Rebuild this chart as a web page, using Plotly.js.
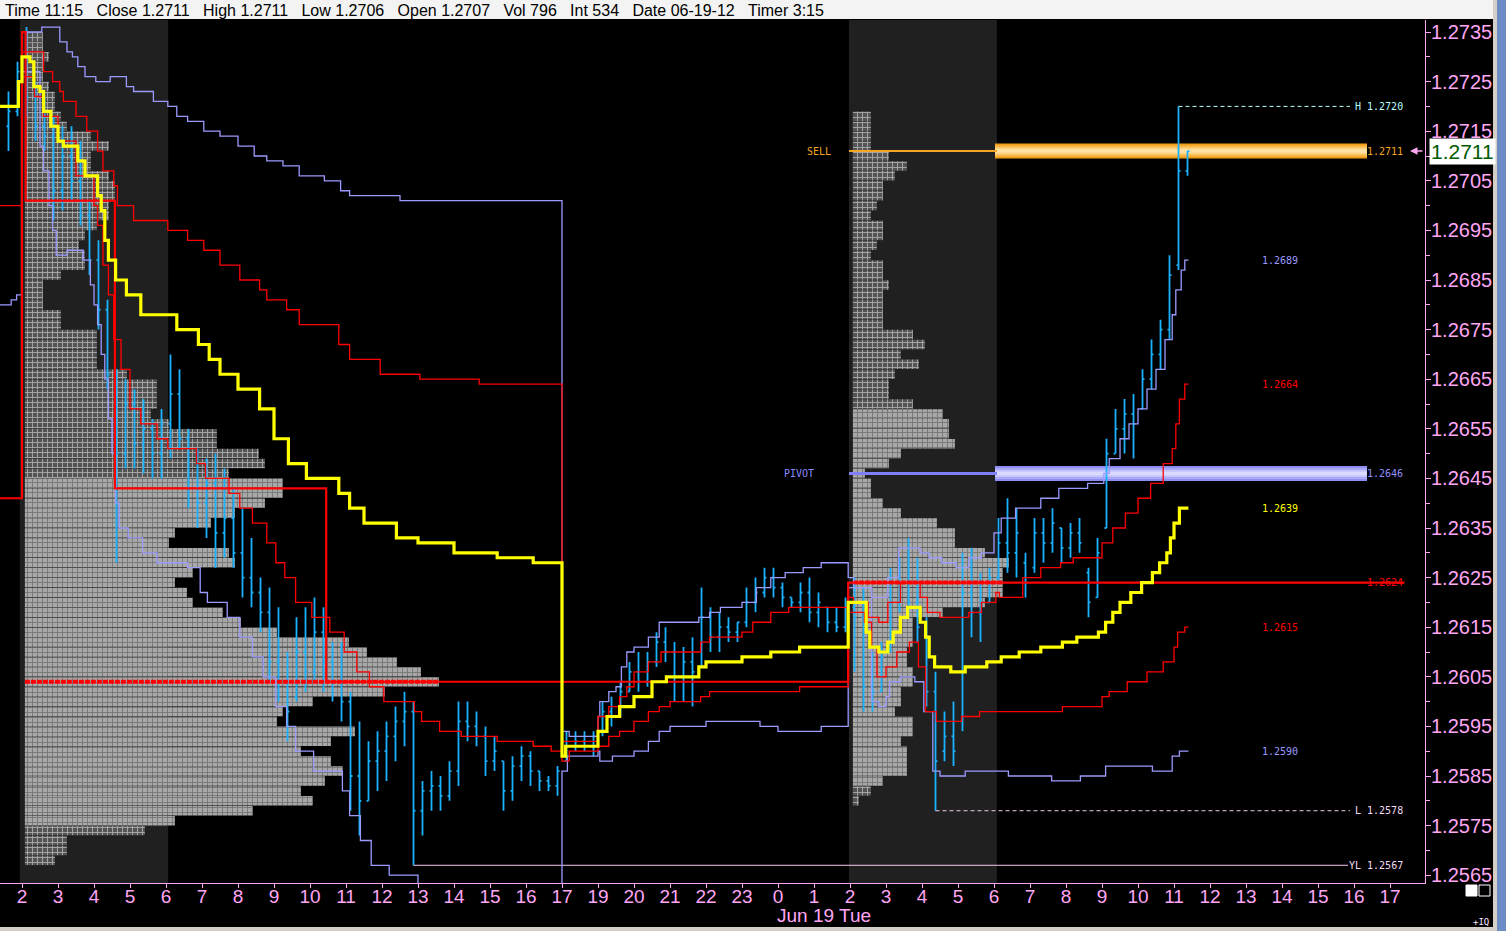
<!DOCTYPE html>
<html><head><meta charset="utf-8">
<script src="https://cdn.plot.ly/plotly-3.0.1.min.js"></script>
<style>html,body{margin:0;padding:0;background:#000;overflow:hidden}#chart{width:1506px;height:931px}</style>
</head><body><div id="chart"></div>
<script>
// ---------- header values ----------
const hdrTime = '11:15', hdrClose = '1.2711', hdrHigh = '1.2711', hdrLow = '1.2706', hdrOpen = '1.2707';
const hdrVol = '796', hdrInt = '534', hdrDate = '06-19-12', hdrTimer = '3:15';
const dateLabel = 'Jun 19 Tue';

// ---------- x axis (hour slots) ----------
const hourLabels = ['2','3','4','5','6','7','8','9','10','11','12','13','14','15','16','17',
  '19','20','21','22','23','0','1',
  '2','3','4','5','6','7','8','9','10','11','12','13','14','15','16','17'];

// ---------- 15-minute OHLC bars (first bar starts at slot -0.5) ----------
const barStartSlot = -0.5, barStep = 0.25;
const barOpen = [
 1.2716,1.2719,1.2727,1.2722,1.2716,1.2714,1.2703,1.2710,1.2705,1.2698,
 1.2689,1.2679,1.2666,1.2650,1.2660,1.2652,1.2655,1.2650,1.2656,1.2662,
 1.2653,1.2643,1.2640,1.2644,1.2634,1.2637,1.2630,1.2625,1.2622,1.2618,
 1.2608,1.2604,1.2601,1.2610,1.2606,1.2614,1.2608,1.2604,1.2600,1.2585,
 1.2580,1.2588,1.2590,1.2593,1.2596,1.2598,1.2578,1.2582,1.2583,1.2581,
 1.2586,1.2596,1.2595,1.2593,1.2588,1.2588,1.2582,1.2587,1.2589,1.2586,
 1.2584,1.2583,1.2588,1.2591,1.2592,1.2591,1.2594,1.2598,1.2598,1.2602,
 1.2606,1.2604,1.2608,1.2612,1.2610,1.2605,1.2608,1.2607,1.2617,1.2613,
 1.2615,1.2614,1.2616,1.2620,1.2622,1.2625,1.2623,1.2621,1.2620,1.2622,
 1.2618,1.2619,1.2616,1.2615,1.2619,1.2617,1.2603,1.2602,1.2610,1.2620,
 1.2624,1.2620,1.2615,1.2602,1.2590,1.2593,1.2596,1.2622,1.2618,1.2620,
 1.2625,1.2632,1.2630,1.2628,1.2627,1.2634,1.2632,1.2635,1.2631,1.2634,
 1.2626,1.2621,1.2635,1.2650,1.2655,1.2658,1.2659,1.2665,1.2670,1.2675,
 1.2688,1.2707];
const barHigh = [
 1.2723,1.2729,1.2736,1.2725,1.2722,1.2718,1.2716,1.2716,1.2713,1.2701,
 1.2693,1.2681,1.2667,1.2665,1.2663,1.2661,1.2657,1.2659,1.2670,1.2667,
 1.2655,1.2651,1.2649,1.2650,1.2647,1.2643,1.2639,1.2633,1.2625,1.2623,
 1.2619,1.2610,1.2617,1.2619,1.2621,1.2619,1.2612,1.2612,1.2602,1.2596,
 1.2592,1.2594,1.2596,1.2599,1.2602,1.2600,1.2584,1.2586,1.2585,1.2588,
 1.2600,1.2600,1.2598,1.2595,1.2593,1.2588,1.2589,1.2591,1.2590,1.2586,
 1.2585,1.2587,1.2594,1.2594,1.2594,1.2594,1.2600,1.2601,1.2604,1.2608,
 1.2610,1.2610,1.2614,1.2615,1.2612,1.2611,1.2613,1.2623,1.2619,1.2618,
 1.2617,1.2616,1.2623,1.2625,1.2627,1.2627,1.2624,1.2621,1.2624,1.2625,
 1.2622,1.2619,1.2619,1.2621,1.2625,1.2623,1.2610,1.2612,1.2627,1.2629,
 1.2633,1.2629,1.2617,1.2606,1.2598,1.2600,1.2630,1.2631,1.2626,1.2627,
 1.2637,1.2641,1.2639,1.2630,1.2637,1.2637,1.2639,1.2635,1.2636,1.2637,
 1.2627,1.2633,1.2653,1.2659,1.2661,1.2662,1.2667,1.2673,1.2677,1.2690,
 1.2720,1.2711];
const barLow = [
 1.2711,1.2718,1.2718,1.2713,1.2711,1.2697,1.2699,1.2701,1.2696,1.2686,
 1.2675,1.2663,1.2628,1.2647,1.2647,1.2646,1.2645,1.2645,1.2649,1.2651,
 1.2639,1.2635,1.2633,1.2627,1.2629,1.2627,1.2621,1.2619,1.2614,1.2604,
 1.2600,1.2592,1.2600,1.2602,1.2604,1.2602,1.2600,1.2596,1.2578,1.2573,
 1.2580,1.2582,1.2584,1.2588,1.2591,1.2567,1.2573,1.2578,1.2578,1.2580,
 1.2583,1.2592,1.2591,1.2585,1.2586,1.2578,1.2580,1.2584,1.2583,1.2582,
 1.2582,1.2581,1.2588,1.2590,1.2590,1.2589,1.2593,1.2595,1.2597,1.2602,
 1.2602,1.2603,1.2607,1.2608,1.2600,1.2600,1.2599,1.2607,1.2610,1.2610,
 1.2612,1.2612,1.2615,1.2618,1.2621,1.2621,1.2619,1.2619,1.2618,1.2616,
 1.2615,1.2614,1.2614,1.2614,1.2606,1.2598,1.2598,1.2602,1.2610,1.2618,
 1.2617,1.2612,1.2599,1.2578,1.2588,1.2587,1.2594,1.2613,1.2612,1.2620,
 1.2624,1.2626,1.2625,1.2621,1.2626,1.2628,1.2630,1.2628,1.2629,1.2630,
 1.2617,1.2621,1.2635,1.2650,1.2650,1.2649,1.2659,1.2663,1.2667,1.2673,
 1.2687,1.2706];
const barClose = [
 1.2719,1.2727,1.2722,1.2716,1.2714,1.2703,1.2710,1.2705,1.2698,1.2689,
 1.2679,1.2666,1.2650,1.2660,1.2652,1.2655,1.2650,1.2656,1.2662,1.2653,
 1.2643,1.2640,1.2644,1.2634,1.2637,1.2630,1.2625,1.2622,1.2618,1.2608,
 1.2604,1.2598,1.2610,1.2606,1.2614,1.2608,1.2604,1.2600,1.2585,1.2580,
 1.2588,1.2590,1.2593,1.2596,1.2598,1.2578,1.2582,1.2583,1.2581,1.2586,
 1.2596,1.2595,1.2593,1.2588,1.2590,1.2582,1.2587,1.2589,1.2586,1.2584,
 1.2583,1.2586,1.2591,1.2592,1.2591,1.2593,1.2598,1.2597,1.2602,1.2606,
 1.2604,1.2608,1.2612,1.2610,1.2605,1.2608,1.2606,1.2617,1.2613,1.2615,
 1.2614,1.2616,1.2620,1.2622,1.2625,1.2623,1.2621,1.2620,1.2622,1.2618,
 1.2620,1.2616,1.2615,1.2619,1.2617,1.2603,1.2602,1.2609,1.2620,1.2624,
 1.2620,1.2615,1.2602,1.2588,1.2593,1.2590,1.2622,1.2618,1.2620,1.2625,
 1.2632,1.2630,1.2634,1.2624,1.2634,1.2632,1.2636,1.2631,1.2634,1.2632,
 1.2620,1.2630,1.2650,1.2655,1.2658,1.2656,1.2665,1.2670,1.2675,1.2686,
 1.2707,1.2711];

// ---------- session VWAP and deviation bands (step lines) ----------
const vwapX = [-0.61,-0.1,0.0,0.22,0.33,0.5,0.6,0.8,1.0,1.15,1.55,1.75,2.1,2.2,2.3,2.4,2.6,2.9,3.3,4.3,4.9,5.2,5.5,6.0,6.6,7.0,7.4,7.9,8.8,9.1,9.5,10.4,11.0,12.0,13.2,14.2,
  15.0,15.1,16.0,16.25,16.6,17.0,17.5,17.9,18.8,19.0,20.0,20.8,21.6,
  22.95,23.45,23.55,23.8,24.05,24.2,24.4,24.6,24.95,25.1,25.2,25.35,25.8,26.2,26.8,27.2,27.7,28.3,28.9,29.3,29.9,30.1,30.3,30.5,30.8,31.1,31.4,31.6,31.8,31.9,32.0,32.15,32.3,32.4];
const vwapY = [1.2720,1.2725,1.2730,1.2729,1.2724,1.2723,1.2719,1.2716,1.2713,1.2712,1.2709,1.2706,1.2702,1.2699,1.2693,1.2689,1.2685,1.2682,1.2678,1.2675,1.2672,1.2669,1.2666,1.2663,1.2659,1.2653,1.2648,1.2645,1.2642,1.2639,1.2636,1.2633,1.2632,1.2630,1.2629,1.2628,
  1.2589,1.2591,1.2594,1.2597,1.2599,1.2601,1.2604,1.2605,1.2607,1.2608,1.2609,1.2610,1.2611,
  1.2620,1.2614,1.2611,1.2610,1.2612,1.2614,1.2617,1.2619,1.2616,1.2613,1.2609,1.2607,1.2606,1.2607,1.2608,1.2609,1.2610,1.2611,1.2612,1.2613,1.2614,1.2616,1.2618,1.2620,1.2622,1.2624,1.2626,1.2628,1.2630,1.2633,1.2636,1.2639,1.2639,1.2639];

const up1X = [0.0,0.6,0.85,1.05,1.15,1.5,1.8,2.1,2.25,2.55,2.65,3.1,4.05,4.6,5.05,5.5,6.05,6.6,6.8,7.35,7.7,8.8,9.1,9.95,11.05,12.7,
  15.0,16.0,16.3,16.6,16.8,17.0,17.4,17.75,18.85,19.1,20.0,20.3,20.8,21.3,
  22.95,23.1,23.5,23.8,24.05,24.4,24.95,25.15,25.5,26.3,26.65,27.05,27.15,27.8,28.3,28.85,29.2,30.0,30.3,30.65,31.0,31.35,31.7,31.95,32.05,32.15,32.3,32.4];
const up1Y = [1.2731,1.2727,1.2725,1.2723,1.2721,1.2718,1.2715,1.2711,1.2707,1.2704,1.2700,1.2697,1.2695,1.2693,1.2691,1.2688,1.2685,1.2683,1.2681,1.2679,1.2676,1.2672,1.2669,1.2666,1.2665,1.2664,
  1.2592,1.2597,1.2599,1.2601,1.2603,1.2606,1.2608,1.2610,1.2612,1.2613,1.2614,1.2616,1.2618,1.2619,
  1.2621,1.2620,1.2617,1.2616,1.2620,1.2624,1.2621,1.2618,1.2617,1.2618,1.2620,1.2622,1.2621,1.2625,1.2627,1.2628,1.2629,1.2632,1.2635,1.2638,1.2641,1.2644,1.2648,1.2651,1.2656,1.2661,1.2664,1.2664];

const dn1X = [-0.61,0.0,0.35,0.6,1.0,1.5,2.0,2.1,2.25,2.4,2.55,2.75,3.0,3.3,3.75,4.05,4.85,5.1,5.75,6.05,6.4,6.8,7.05,7.3,7.6,8.05,8.55,8.95,9.3,9.65,10.05,10.9,11.1,11.6,12.2,13.2,14.2,14.7,
  15.0,15.2,16.0,16.3,16.6,17.0,17.4,17.7,18.0,18.85,19.1,21.6,
  22.95,23.4,23.6,23.75,24.0,24.3,24.65,24.9,25.1,25.4,26.1,26.6,28.9,30.0,30.2,30.7,31.25,31.7,32.0,32.1,32.3,32.4];
const dn1Y = [1.2700,1.2726,1.2722,1.2718,1.2713,1.2706,1.2700,1.2696,1.2688,1.2682,1.2673,1.2667,1.2659,1.2656,1.2653,1.2651,1.2648,1.2645,1.2642,1.2639,1.2636,1.2632,1.2628,1.2625,1.2620,1.2617,1.2614,1.2610,1.2606,1.2603,1.2600,1.2598,1.2596,1.2594,1.2593,1.2592,1.2591,1.2590,
  1.2588,1.2590,1.2591,1.2593,1.2594,1.2596,1.2598,1.2599,1.2600,1.2601,1.2602,1.2603,
  1.2618,1.2616,1.2611,1.2605,1.2607,1.2610,1.2612,1.2607,1.2598,1.2596,1.2597,1.2598,1.2599,1.2601,1.2602,1.2604,1.2606,1.2608,1.2611,1.2614,1.2615,1.2615];

const up2X = [0.0,0.55,1.05,1.25,1.4,1.55,1.75,2.05,2.45,2.9,3.1,3.65,4.05,4.3,4.6,5.05,5.5,6.0,6.45,6.8,7.25,7.7,8.4,8.85,9.1,10.5,
  15.0,15.2,16.0,16.05,16.3,16.5,16.65,16.8,17.0,17.4,17.7,18.8,19.1,19.4,20.0,20.4,20.8,21.2,21.7,22.2,
  22.95,23.1,23.6,24.05,24.35,24.95,25.2,25.55,25.95,26.3,26.65,27.0,27.2,27.6,28.3,28.8,29.6,30.05,30.2,30.5,30.75,31.0,31.25,31.5,31.75,31.95,32.05,32.2,32.3,32.4];
const up2Y = [1.2735,1.2736,1.2733,1.2731,1.2730,1.2728,1.2726,1.2725,1.2726,1.2724,1.2723,1.2721,1.2720,1.2718,1.2717,1.2715,1.2714,1.2712,1.2710,1.2709,1.2708,1.2706,1.2705,1.2703,1.2702,1.2701,
  1.2594,1.2593,1.2597,1.2600,1.2602,1.2603,1.2607,1.2610,1.2611,1.2613,1.2616,1.2617,1.2618,1.2619,1.2620,1.2623,1.2625,1.2626,1.2627,1.2628,
  1.2625,1.2623,1.2621,1.2625,1.2631,1.2630,1.2629,1.2628,1.2627,1.2629,1.2630,1.2634,1.2637,1.2639,1.2641,1.2643,1.2644,1.2646,1.2649,1.2653,1.2656,1.2659,1.2663,1.2667,1.2673,1.2678,1.2683,1.2687,1.2689,1.2689];

const dn2X = [-0.61,-0.3,-0.15,0.0,0.5,0.6,0.75,0.85,0.95,1.25,1.7,1.9,2.0,2.1,2.2,2.3,2.4,2.5,2.6,2.7,2.95,3.35,3.75,4.6,4.95,5.15,5.7,6.05,6.4,6.7,7.05,7.35,7.6,8.1,8.9,9.1,9.4,9.7,10.2,11.0,11.5,12.5,14.0,
  15.0,15.15,16.0,16.05,16.4,17.0,17.4,17.7,18.0,19.0,20.5,21.0,22.2,
  22.95,23.6,23.8,24.0,24.1,24.4,24.8,25.05,25.3,25.5,26.2,27.4,28.6,29.4,30.1,31.4,31.95,32.15,32.4];
const dn2Y = [1.2680,1.2681,1.2682,1.2727,1.2712,1.2707,1.2700,1.2695,1.2690,1.2691,1.2689,1.2684,1.2680,1.2676,1.2670,1.2665,1.2657,1.2650,1.2640,1.2635,1.2633,1.2630,1.2628,1.2627,1.2622,1.2620,1.2617,1.2613,1.2609,1.2605,1.2599,1.2595,1.2590,1.2586,1.2582,1.2577,1.2572,1.2567,1.2565,1.2563,1.2560,1.2556,1.2552,
  1.2586,1.2589,1.2590,1.2588,1.2589,1.2590,1.2592,1.2594,1.2595,1.2596,1.2595,1.2594,1.2595,
  1.2623,1.2600,1.2599,1.2601,1.2604,1.2605,1.2604,1.2598,1.2586,1.2585,1.2586,1.2585,1.2584,1.2585,1.2587,1.2586,1.2589,1.2590,1.2590];

// developing point of control
const pocX = [-0.61,0.0,0.1,2.58,8.45,22.95,38.4];
const pocY = [1.2641,1.2735,1.2701,1.2643,1.2604,1.2624,1.2624];

// ---------- volume profiles (cells per 2-pip row, listed from top price down) ----------
const profStep = 0.0002;
const prof1Top = 1.2734, prof1Base = 0.08, prof1VAH = 1.2644, prof1VAL = 1.2576, prof1POC = 1.2604;
const prof1Counts = [
 3,3,4,3,3,4,5,5,6,7,
 11,14,11,11,14,15,15,14,14,12,
 10,9,10,10,6,3,3,3,6,6,
 12,12,12,12,17,22,22,22,21,24,
 32,32,39,40,34,43,43,40,35,31,
 25,24,34,35,28,25,27,28,33,36,
 42,54,57,62,66,69,60,48,43,42,
 55,51,46,51,53,50,46,48,38,25,
 20,7,7,5];
const prof2Top = 1.2718, prof2Base = 23.08, prof2VAH = 1.2658, prof2VAL = 1.2584, prof2POC = 1.2624;
const prof2Counts = [
 3,3,3,3,6,9,7,5,5,4,
 3,5,5,4,3,5,5,6,5,5,
 5,5,10,12,8,11,7,6,6,10,
 15,16,16,17,8,6,2,3,3,5,
 8,14,17,17,22,26,25,25,25,22,
 15,10,10,10,9,9,10,10,8,8,
 7,10,10,8,9,9,9,5,3,1];

// ---------- key levels ----------
const sellLevel = 1.2711, pivotLevel = 1.2646;
const highOfDay = 1.2720, lowOfDay = 1.2578, yesterdayLow = 1.2567, lastPrice = 1.2711;
const highSlot = 32.125, lowSlot = 25.375, yLowSlot = 10.875;

// ---------- layout geometry ----------
const W = 1506, H = 931, ML = 0, MR = 81, MT = 20, MB = 48;
const PW = W - ML - MR, PH = H - MT - MB;
const xRange = [-0.611, 38.972];
const yRange = [1.256343, 1.273742];
const px2paperX = px => (px - ML) / PW;
const py2paperY = py => 1 - (py - MT) / PH;
const px2slot = px => xRange[0] + (px - ML) / PW * (xRange[1] - xRange[0]);

const PINK = '#ffa6f4', CYAN = '#1ab2ff', RED = '#ff0000', LAV = '#9a9aff', YEL = '#ffff00';
const ORANGE = '#f5a623';
const CELL = 1 / 6;

const barX = barOpen.map((_, i) => barStartSlot + i * barStep + barStep / 2);

function profileTrace(top, counts, base, vah, val, poc) {
  const y = counts.map((c, i) => +(top - i * profStep).toFixed(4));
  const col = y.map(p => (p <= vah + 1e-9 && p >= val - 1e-9) ? '#a8a8a8' : '#545454');
  return {type: 'bar', orientation: 'h', y: y, x: counts.map(c => c * CELL), base: base,
    width: profStep * 0.96, hoverinfo: 'skip',
    marker: {color: col, line: {width: 0},
      pattern: {shape: '+', fillmode: 'overlay', fgcolor: '#000000', size: 5, solidity: 0.33}}};
}
function pocRow(top, counts, base, poc) {
  const idx = Math.round((top - poc) / profStep);
  return {type: 'scatter', mode: 'lines', x: [base, base + counts[idx] * CELL], y: [poc, poc],
    line: {color: RED, width: 4, dash: '5px,1px'}, hoverinfo: 'skip'};
}
function step(x, y, color, width) {
  return {type: 'scatter', mode: 'lines', x: x, y: y, line: {color: color, width: width, shape: 'hv'}, hoverinfo: 'skip'};
}
function hline(x0, x1, y, color, width, dash) {
  return {type: 'scatter', mode: 'lines', x: [x0, x1], y: [y, y], line: {color: color, width: width, dash: dash || 'solid'}, hoverinfo: 'skip'};
}

const xEndLine = px2slot(1350);
const traces = [
  profileTrace(prof1Top, prof1Counts, prof1Base, prof1VAH, prof1VAL, prof1POC),
  profileTrace(prof2Top, prof2Counts, prof2Base, prof2VAH, prof2VAL, prof2POC),
  pocRow(prof1Top, prof1Counts, prof1Base, prof1POC),
  pocRow(prof2Top, prof2Counts, prof2Base, prof2POC),
  hline(px2slot(849), px2slot(997), sellLevel, ORANGE, 2),
  hline(px2slot(849), px2slot(997), pivotLevel, '#8080ff', 3),
  hline(yLowSlot, px2slot(1348), yesterdayLow, '#f0c8f0', 1),
  hline(lowSlot, xEndLine, lowOfDay, '#f0c8f0', 1, '4px,3px'),
  hline(highSlot, xEndLine, highOfDay, '#b8ffff', 1, '4px,3px'),
  step(up2X, up2Y, LAV, 1.3),
  step(dn2X, dn2Y, LAV, 1.3),
  step(up1X, up1Y, RED, 1.3),
  step(dn1X, dn1Y, RED, 1.3),
  step(pocX, pocY, RED, 2.2),
  {type: 'ohlc', x: barX, open: barOpen, high: barHigh, low: barLow, close: barClose,
   increasing: {line: {color: CYAN, width: 1.8}}, decreasing: {line: {color: CYAN, width: 1.8}},
   tickwidth: 0.22, hoverinfo: 'skip'},
  step(vwapX, vwapY, YEL, 3.2)
];

// gradient bars for SELL and PIVOT levels
const bandX0 = px2slot(995), bandX1 = px2slot(1367);
function gradBand(level, colors) {
  const halves = [0.00015, 0.00011, 0.00007, 0.000035];
  return halves.map((h, i) => ({type: 'rect', xref: 'x', yref: 'y', x0: bandX0, x1: bandX1,
    y0: level - h, y1: level + h, fillcolor: colors[i], line: {width: 0}, layer: 'below'}));
}

const shapes = [
  {type: 'rect', xref: 'x', yref: 'paper', x0: -0.06, x1: 4.06, y0: 0, y1: 1, fillcolor: '#202020', line: {width: 0}, layer: 'below'},
  {type: 'rect', xref: 'x', yref: 'paper', x0: 22.97, x1: 27.08, y0: 0, y1: 1, fillcolor: '#202020', line: {width: 0}, layer: 'below'},
  ...gradBand(sellLevel, ['#f2a01c', '#f9b94a', '#fdd27f', '#ffe2a6']),
  ...gradBand(pivotLevel, ['#8e8ef2', '#a9a9f8', '#c3c3fc', '#dadaff']),
  // header strip
  {type: 'rect', xref: 'paper', yref: 'paper', x0: px2paperX(0), x1: px2paperX(1493), y0: py2paperY(19), y1: py2paperY(0), fillcolor: '#f3f3f3', line: {width: 0}},
  // right window border
  {type: 'rect', xref: 'paper', yref: 'paper', x0: px2paperX(1493), x1: px2paperX(1497), y0: py2paperY(931), y1: py2paperY(0), fillcolor: '#d4d0c8', line: {width: 0}},
  {type: 'rect', xref: 'paper', yref: 'paper', x0: px2paperX(1497), x1: px2paperX(1506), y0: py2paperY(931), y1: py2paperY(0), fillcolor: '#6b8cc4', line: {width: 0}},
  {type: 'rect', xref: 'paper', yref: 'paper', x0: px2paperX(0), x1: px2paperX(1493), y0: py2paperY(931), y1: py2paperY(927), fillcolor: '#d4d0c8', line: {width: 0}},
  // small squares bottom right
  {type: 'rect', xref: 'paper', yref: 'paper', x0: px2paperX(1466), x1: px2paperX(1477), y0: py2paperY(896), y1: py2paperY(885), fillcolor: '#ffffff', line: {color: '#ffffff', width: 1}},
  {type: 'rect', xref: 'paper', yref: 'paper', x0: px2paperX(1479), x1: px2paperX(1490), y0: py2paperY(896), y1: py2paperY(885), fillcolor: 'rgba(0,0,0,0)', line: {color: '#ffffff', width: 1}}
];

const mono = 'DejaVu Sans Mono, Liberation Mono, monospace';
const nb = '\u00a0\u00a0\u00a0';
const headerText = 'Time ' + hdrTime + nb + 'Close ' + hdrClose + nb + 'High ' + hdrHigh + nb + 'Low ' + hdrLow + nb +
  'Open ' + hdrOpen + nb + 'Vol ' + hdrVol + nb + 'Int ' + hdrInt + nb + 'Date ' + hdrDate + nb + 'Timer ' + hdrTimer;

const lblX = px2slot(1405), bandLblX = px2slot(1280);
const last = a => a[a.length - 1];
function lbl(x, y, text, color, anchor) {
  return {xref: 'x', yref: 'y', x: x, y: y, text: text, showarrow: false, xanchor: anchor || 'right', yanchor: 'middle',
    font: {family: mono, size: 10, color: color}};
}
const annotations = [
  {xref: 'paper', yref: 'paper', x: px2paperX(3), y: py2paperY(10), xanchor: 'left', yanchor: 'middle', showarrow: false,
   text: headerText, font: {family: 'Liberation Sans, Arial', size: 16, color: '#000000'}},
  {xref: 'x', yref: 'paper', x: px2slot(824), y: py2paperY(916), xanchor: 'center', yanchor: 'middle', showarrow: false,
   text: dateLabel, font: {family: 'Liberation Sans, Arial', size: 19, color: PINK}},
  {xref: 'paper', yref: 'paper', x: px2paperX(1491), y: py2paperY(922), xanchor: 'right', yanchor: 'middle', showarrow: false,
   text: '+IQ', font: {family: mono, size: 9, color: '#ffe6ff'}},
  lbl(px2slot(833), sellLevel, 'SELL', ORANGE),
  lbl(px2slot(816), pivotLevel, 'PIVOT', '#8888ff'),
  lbl(lblX, sellLevel, sellLevel.toFixed(4), ORANGE),
  lbl(lblX, pivotLevel, pivotLevel.toFixed(4), '#9090ff'),
  lbl(lblX, prof2POC, prof2POC.toFixed(4), RED),
  lbl(lblX, highOfDay, 'H ' + highOfDay.toFixed(4), '#b8ffff'),
  lbl(lblX, lowOfDay, 'L ' + lowOfDay.toFixed(4), '#f4dcf4'),
  lbl(lblX, yesterdayLow, 'YL ' + yesterdayLow.toFixed(4), '#f4dcf4'),
  lbl(bandLblX, last(up2Y), last(up2Y).toFixed(4), LAV, 'center'),
  lbl(bandLblX, last(up1Y), last(up1Y).toFixed(4), RED, 'center'),
  lbl(bandLblX, last(vwapY), last(vwapY).toFixed(4), YEL, 'center'),
  lbl(bandLblX, last(dn1Y), last(dn1Y).toFixed(4), RED, 'center'),
  lbl(bandLblX, last(dn2Y), last(dn2Y).toFixed(4), LAV, 'center'),
  {xref: 'x', yref: 'y', x: px2slot(1410), y: lastPrice, ax: 14, ay: 0, text: '', showarrow: true,
   arrowhead: 2, arrowsize: 1, arrowwidth: 1.5, arrowcolor: PINK},
  {xref: 'paper', yref: 'y', x: px2paperX(1429), y: lastPrice, xanchor: 'left', yanchor: 'middle', showarrow: false,
   text: lastPrice.toFixed(4), bgcolor: '#ffffff', borderpad: 1,
   font: {family: 'Liberation Sans, Arial', size: 21, color: '#005a00'}}
];

const layout = {
  width: W, height: H, autosize: false,
  margin: {l: ML, r: MR, t: MT, b: MB, pad: 0},
  paper_bgcolor: '#000000', plot_bgcolor: '#000000',
  showlegend: false, barmode: 'overlay', dragmode: false,
  xaxis: {range: xRange, tickmode: 'array', tickvals: hourLabels.map((_, i) => i), ticktext: hourLabels,
    tickfont: {family: 'Liberation Sans, Arial', size: 19, color: PINK},
    ticks: 'outside', ticklen: 4, tickcolor: PINK, showline: true, linecolor: PINK, linewidth: 1,
    ticklabelstandoff: -8,
    showgrid: false, zeroline: false, fixedrange: true, rangeslider: {visible: false}},
  yaxis: {side: 'right', range: yRange, tick0: 1.2735, dtick: 0.001, tickformat: '.4f',
    tickfont: {family: 'Liberation Sans, Arial', size: 20, color: PINK},
    ticks: 'outside', ticklen: 5, tickcolor: PINK, showline: true, linecolor: PINK, linewidth: 1,
    ticklabelstandoff: -4,
    showgrid: false, zeroline: false, fixedrange: true,
    minor: {tick0: 1.2735, dtick: 0.0005, ticks: 'outside', ticklen: 4, tickcolor: PINK, showgrid: false}},
  shapes: shapes, annotations: annotations
};

Plotly.newPlot('chart', traces, layout, {displayModeBar: false, staticPlot: true});
</script></body></html>
